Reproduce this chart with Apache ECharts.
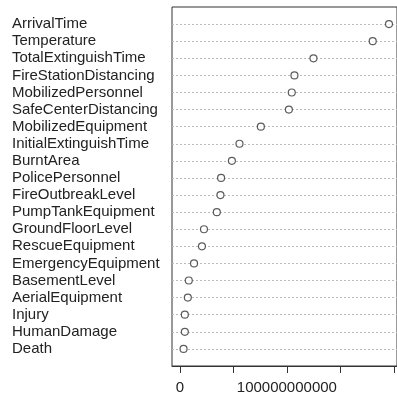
<!DOCTYPE html>
<html>
<head>
<meta charset="utf-8">
<script src="https://cdn.jsdelivr.net/npm/echarts@6/dist/echarts.min.js"></script>
<style>html,body{margin:0;padding:0;background:#fff}#c{width:397px;height:397px}</style>
</head>
<body>
<div id="c"></div>
<script>
const categories = ["ArrivalTime","Temperature","TotalExtinguishTime","FireStationDistancing","MobilizedPersonnel","SafeCenterDistancing","MobilizedEquipment","InitialExtinguishTime","BurntArea","PolicePersonnel","FireOutbreakLevel","PumpTankEquipment","GroundFloorLevel","RescueEquipment","EmergencyEquipment","BasementLevel","AerialEquipment","Injury","HumanDamage","Death"];
const importance = [1.955e11,1.803e11,1.249e11,1.071e11,1.046e11,1.019e11,0.757e11,0.557e11,0.486e11,0.385e11,0.379e11,0.345e11,0.225e11,0.206e11,0.132e11,0.083e11,0.074e11,0.046e11,0.046e11,0.034e11];
const xTicks = [0,5e10,1e11,1.5e11,2e11];
const xTickLabels = [0,1e11];

const chart = echarts.init(document.getElementById('c'));
const font = "'Liberation Sans', Arial, sans-serif";
chart.setOption({
  animation:false,
  grid:{left:172, top:7, bottom:31, right:-3, show:true, borderColor:'#333', borderWidth:1, backgroundColor:'transparent'},
  xAxis:{type:'value', min:-7.4e9, max:2.03e11,
    axisLine:{show:true, onZero:false, lineStyle:{color:'#333', width:1}},
    axisTick:{show:true, inside:false, length:7, customValues:xTicks, lineStyle:{color:'#333', width:1}},
    axisLabel:{customValues:xTickLabels, formatter:v=>String(v), fontFamily:font, fontSize:15, color:'#222', margin:14},
    splitLine:{show:false}},
  yAxis:{type:'value', inverse:true, min:0, max:21, interval:1,
    axisLine:{show:false}, axisTick:{show:false},
    axisLabel:{align:'left', margin:160, fontFamily:font, fontSize:15, color:'#222',
      customValues:categories.map((c,i)=>i+1),
      formatter:v=>categories[v-1]||''},
    splitLine:{show:true, showMinLine:false, showMaxLine:false, lineStyle:{color:'#bbb', type:[2,2], width:1}}},
  series:[{type:'scatter', symbol:'circle', symbolSize:7,
    itemStyle:{color:'#fff', borderColor:'#333', borderWidth:1.2},
    data:importance.map((v,i)=>[v,i+1])}]
});
</script>
</body>
</html>
